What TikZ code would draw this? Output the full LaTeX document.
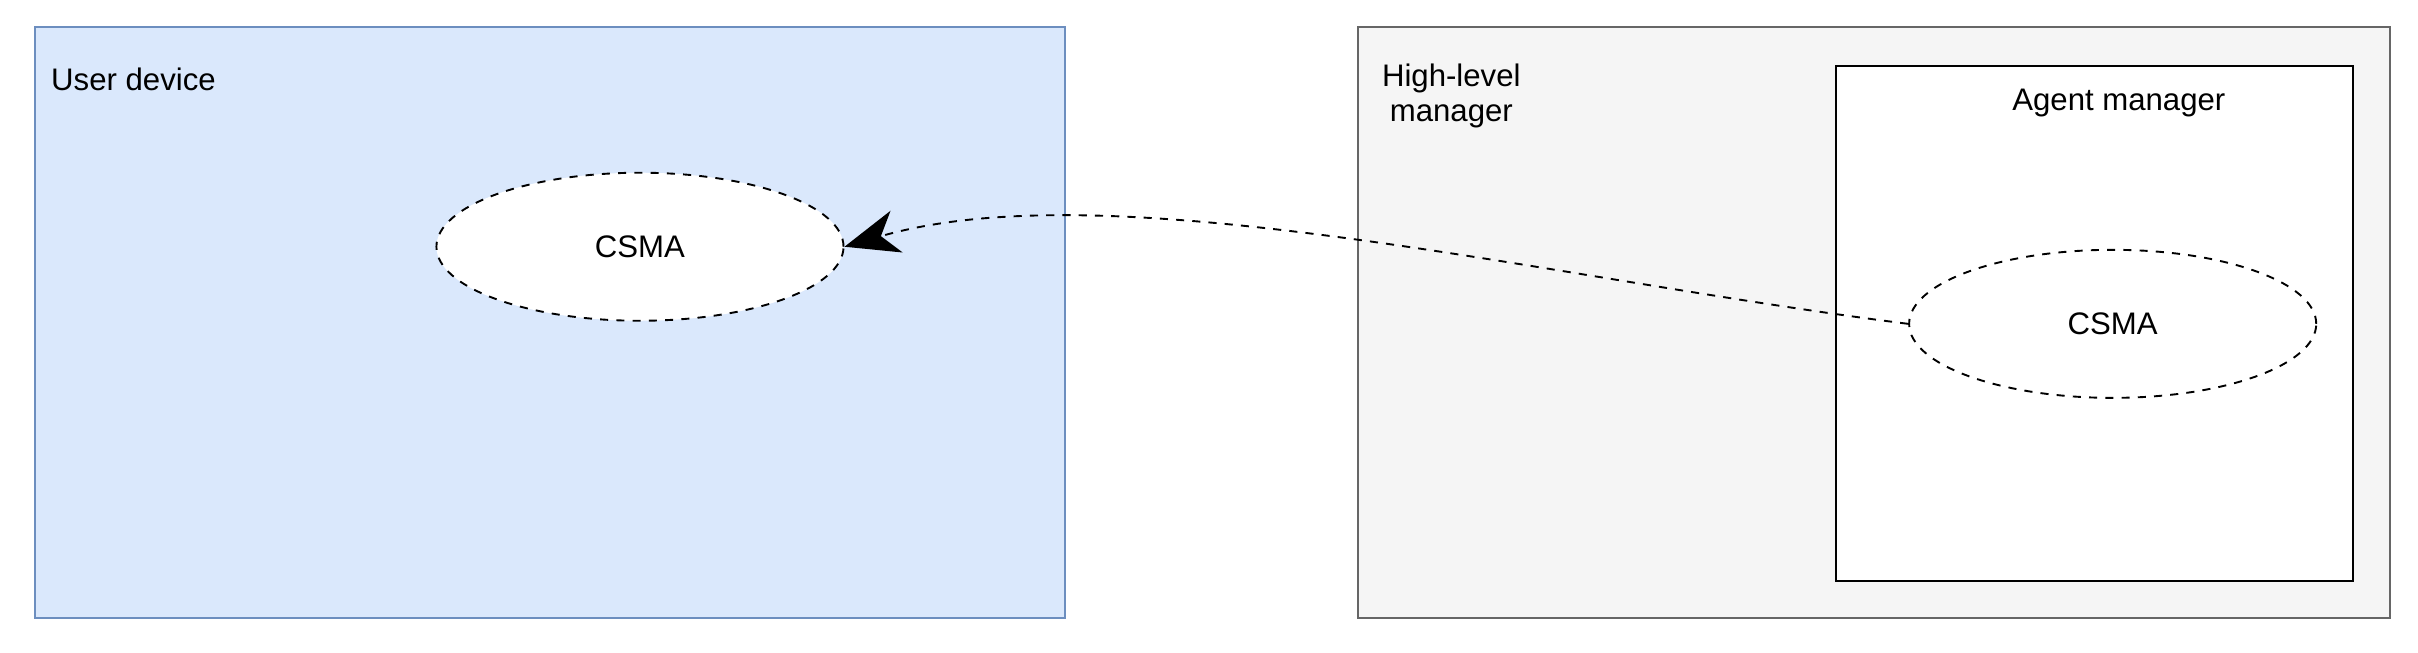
\documentclass[tikz,border=0pt]{standalone}
\usepackage{fontspec}
\setmainfont{Liberation Sans}
\usetikzlibrary{arrows.meta,shapes.geometric}
\definecolor{udfill}{RGB}{218,232,252}
\definecolor{udline}{RGB}{108,142,191}
\definecolor{hlfill}{RGB}{245,245,245}
\definecolor{hlline}{RGB}{102,102,102}
\begin{document}
\begin{tikzpicture}[x=0.02cm,y=-0.02cm,
  box/.style={draw, line width=0.8pt, inner sep=0},
  csma/.style={draw, dashed, ellipse, fill=white, line width=0.7pt, minimum width=264*0.02cm, minimum height=96*0.02cm, font=\fontsize{11.5}{13}\selectfont},
  lbl/.style={anchor=north west, font=\fontsize{11.5}{13}\selectfont}]
\useasboundingbox (0,0) rectangle (1568,423);
\node[box, draw=udline, fill=udfill, minimum width=668*0.02cm, minimum height=383*0.02cm, anchor=north west] (ud) at (22,17) {};
\node[lbl, align=left] (udl) at (27,38) {User device};
\node[box, draw=hlline, fill=hlfill, minimum width=669*0.02cm, minimum height=383*0.02cm, anchor=north west] (hl) at (880,17) {};
\node[lbl, align=center] (hll) at (890,35) {High-level\\manager};
\node[box, draw=black, fill=white, minimum width=335*0.02cm, minimum height=334*0.02cm, anchor=north west] (am) at (1190,42) {};
\node[font=\fontsize{11.5}{13}\selectfont] (aml) at (1374,67) {Agent manager};
\node[csma] (c1) at (415,160) {CSMA};
\node[csma] (c2) at (1370,210) {CSMA};
\draw[dashed, line width=0.7pt, -{Stealth[length=20pt,width=16pt,inset=6pt]}] (c2.west) .. controls (1000,180) and (720,110) .. (c1.east);
\end{tikzpicture}
\end{document}
